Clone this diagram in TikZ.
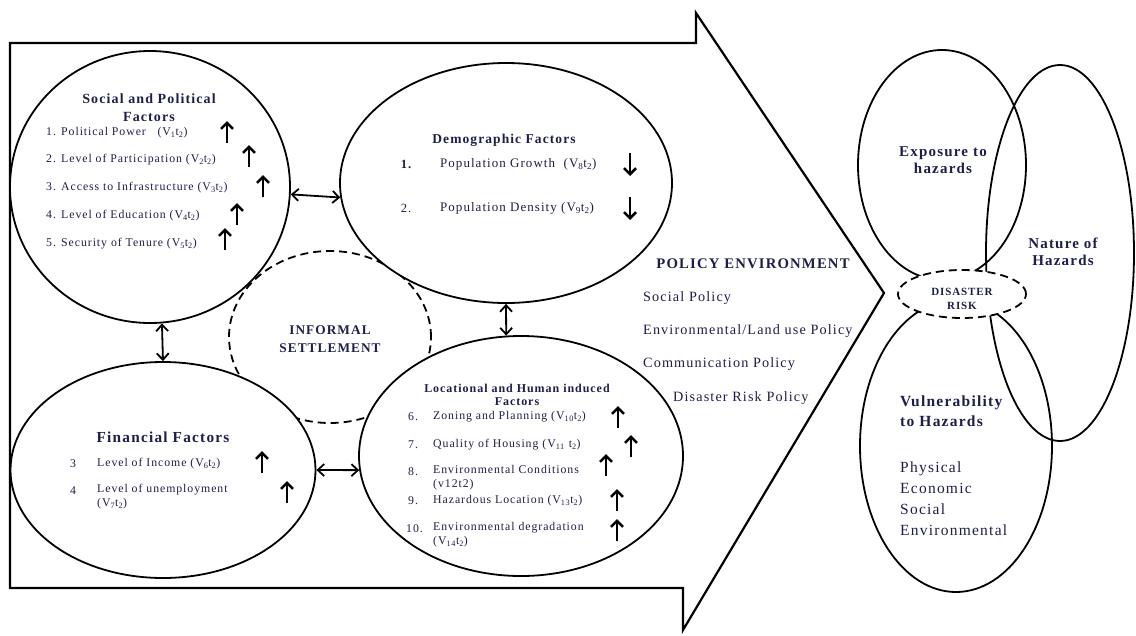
\documentclass[tikz,border=0pt]{standalone}
\usepackage{fontspec}
\setmainfont{Liberation Serif}[LetterSpace=8]
\usetikzlibrary{shapes.geometric,arrows.meta}
\definecolor{textc}{RGB}{30,30,75}
\newcommand\fsz[2]{\fontsize{#1}{#2}\selectfont}
\newcommand\vt[1]{(V\textsubscript{#1}t\textsubscript{2})}
\begin{document}
\begin{tikzpicture}[x=1pt,y=-1pt,
  ell/.style={draw, ellipse, line width=1.8pt, fill=white, inner sep=0pt},
  oval/.style={draw, ellipse, line width=1.8pt, inner sep=0pt},
  txt/.style={text=textc, inner sep=0pt},
  ttl/.style={txt, align=center, font=\bfseries\fsz{14}{18}},
  itm/.style={txt, anchor=west, font=\fsz{11.8}{13}},
  litm/.style={txt, anchor=west, align=left, font=\fsz{11.8}{14}},
  pol/.style={txt, anchor=west, font=\fsz{14.2}{15}},
  rgt/.style={txt, font=\bfseries\fsz{15}{17}, align=center},
  trendup/.style={line width=2.6pt, -{Straight Barb[length=6pt,width=12pt]}},
  dbl/.style={line width=1.8pt, {Straight Barb[length=6.5pt,width=12pt]}-{Straight Barb[length=6.5pt,width=12pt]}}
]
\useasboundingbox (0,0) rectangle (1136,635);

% big arrow
\draw[line width=2.2pt, line join=miter] (10,43) -- (696,43) -- (696,13) -- (884,293) -- (683,630) -- (683,588) -- (10,588) -- cycle;

% informal settlement (dashed, behind)
\node[oval, dashed, dash pattern=on 8pt off 5pt, minimum width=202pt, minimum height=172pt] (inf) at (330,337) {};

% factor ellipses
\node[ell, minimum width=280pt, minimum height=272pt] (sp) at (150,187) {};
\node[ell, minimum width=332pt, minimum height=240pt] (demo) at (506,183) {};
\node[ell, minimum width=305pt, minimum height=216pt] (fin) at (163,470) {};
\node[ell, minimum width=324pt, minimum height=240pt] (loc) at (521,456) {};

% connectors
\draw[dbl] (sp.-3) -- (demo.185);
\draw[dbl] (sp.-85) -- (fin.north);
\draw[dbl] (demo.south) -- (loc.97);
\draw[dbl] (fin.east) -- (loc.185);

% informal settlement label
\node[txt, align=center, font=\bfseries\fsz{13.3}{18}] (infl) at (330,339) {INFORMAL\\SETTLEMENT};

% Social and political
\node[ttl] (spt) at (149,108) {Social and Political\\Factors};
\node[itm] (sp1) at (46,133) {1. Political Power \ \ \vt{1}};
\node[itm] (sp2) at (46,160) {2. Level of Participation \vt{2}};
\node[itm] (sp3) at (46,188) {3. Access to Infrastructure \vt{3}};
\node[itm] (sp4) at (46,216) {4. Level of Education \vt{4}};
\node[itm] (sp5) at (46,244) {5. Security of Tenure \vt{5}};
\draw[trendup] (227,143) -- (227,121);
\draw[trendup] (249,167) -- (249,145);
\draw[trendup] (263,197) -- (263,175);
\draw[trendup] (237,225) -- (237,203);
\draw[trendup] (225,250) -- (225,228);

% Demographic
\node[ttl, font=\bfseries\fsz{13.5}{17}] (dmt) at (504,140) {Demographic Factors};
\node[txt, font=\bfseries\fsz{12.5}{14}] (dm1n) at (406,164) {1.};
\node[txt, anchor=west, font=\fsz{13}{14}] (dm1) at (440,164) {Population Growth \ \vt{8}};
\node[txt, font=\fsz{12.5}{14}] (dm2n) at (406,208) {2.};
\node[txt, anchor=west, font=\fsz{13}{14}] (dm2) at (440,208) {Population Density \vt{9}};
\draw[trendup] (630,153) -- (630,176);
\draw[trendup] (630,197) -- (630,220);

% Locational
\node[ttl, font=\bfseries\fsz{12}{13.5}] (lct) at (517,395) {Locational and Human induced\\Factors};
\node[itm] (l6n) at (408,417) {6.};
\node[itm] (l6) at (433,417) {Zoning and Planning \vt{10}};
\node[itm] (l7n) at (408,445) {7.};
\node[itm] (l7) at (433,445) {Quality of Housing (V\textsubscript{11} t\textsubscript{2})};
\node[itm] (l8n) at (408,472) {8.};
\node[litm, anchor=north west] (l8) at (433,465) {Environmental Conditions\\(v12t2)};
\node[itm] (l9n) at (408,501) {9.};
\node[itm] (l9) at (433,501) {Hazardous Location \vt{13}};
\node[itm] (l10n) at (406,529) {10.};
\node[litm, anchor=north west] (l10) at (433,522) {Environmental degradation\\\vt{14}};
\draw[trendup] (618,428) -- (618,406);
\draw[trendup] (631,457) -- (631,435);
\draw[trendup] (606,476) -- (606,454);
\draw[trendup] (617,511) -- (617,489);
\draw[trendup] (617,541) -- (617,519);

% Financial
\node[ttl, font=\bfseries\fsz{15.3}{17}] (fnt) at (163,437) {Financial Factors};
\node[itm] (f3n) at (70,464) {3};
\node[itm] (f3) at (97,464) {Level of Income \vt{6}};
\node[itm] (f4n) at (70,491) {4};
\node[litm, anchor=north west] (f4) at (97,484) {Level of unemployment\\\vt{7}};
\draw[trendup] (262,473) -- (262,451);
\draw[trendup] (287,503) -- (287,481);

% Policy environment
\node[txt, font=\bfseries\fsz{14.7}{15}] (pet) at (753,264) {POLICY ENVIRONMENT};
\node[pol] (pe1) at (643,298) {Social Policy};
\node[pol] (pe2) at (643,331) {Environmental/Land use Policy};
\node[pol] (pe3) at (643,364) {Communication Policy};
\node[pol] (pe4) at (673,398) {Disaster Risk Policy};

% Right side
\node[oval, minimum width=168pt, minimum height=230pt] (expo) at (942,165) {};
\node[oval, minimum width=148pt, minimum height=376pt] (nat) at (1060,253) {};
\node[oval, minimum width=192pt, minimum height=292pt] (vul) at (956,446) {};
\node[oval, fill=white, dashed, dash pattern=on 8pt off 5pt, minimum width=128pt, minimum height=48pt] (dr) at (962,294) {};

\node[rgt] (expot) at (943,160) {Exposure to\\hazards};
\node[rgt] (natt) at (1063,252) {Nature of\\Hazards};
\node[txt, align=center, font=\bfseries\fsz{11}{14}] (drt) at (962,299) {DISASTER\\RISK};
\node[txt, anchor=north west, align=left, font=\bfseries\fsz{15.5}{20}] (vult) at (900,396) {Vulnerability\\to Hazards};
\node[txt, anchor=north west, align=left, font=\fsz{15.5}{20.7}] (vull) at (900,462) {Physical\\Economic\\Social\\Environmental};
\end{tikzpicture}
\end{document}
